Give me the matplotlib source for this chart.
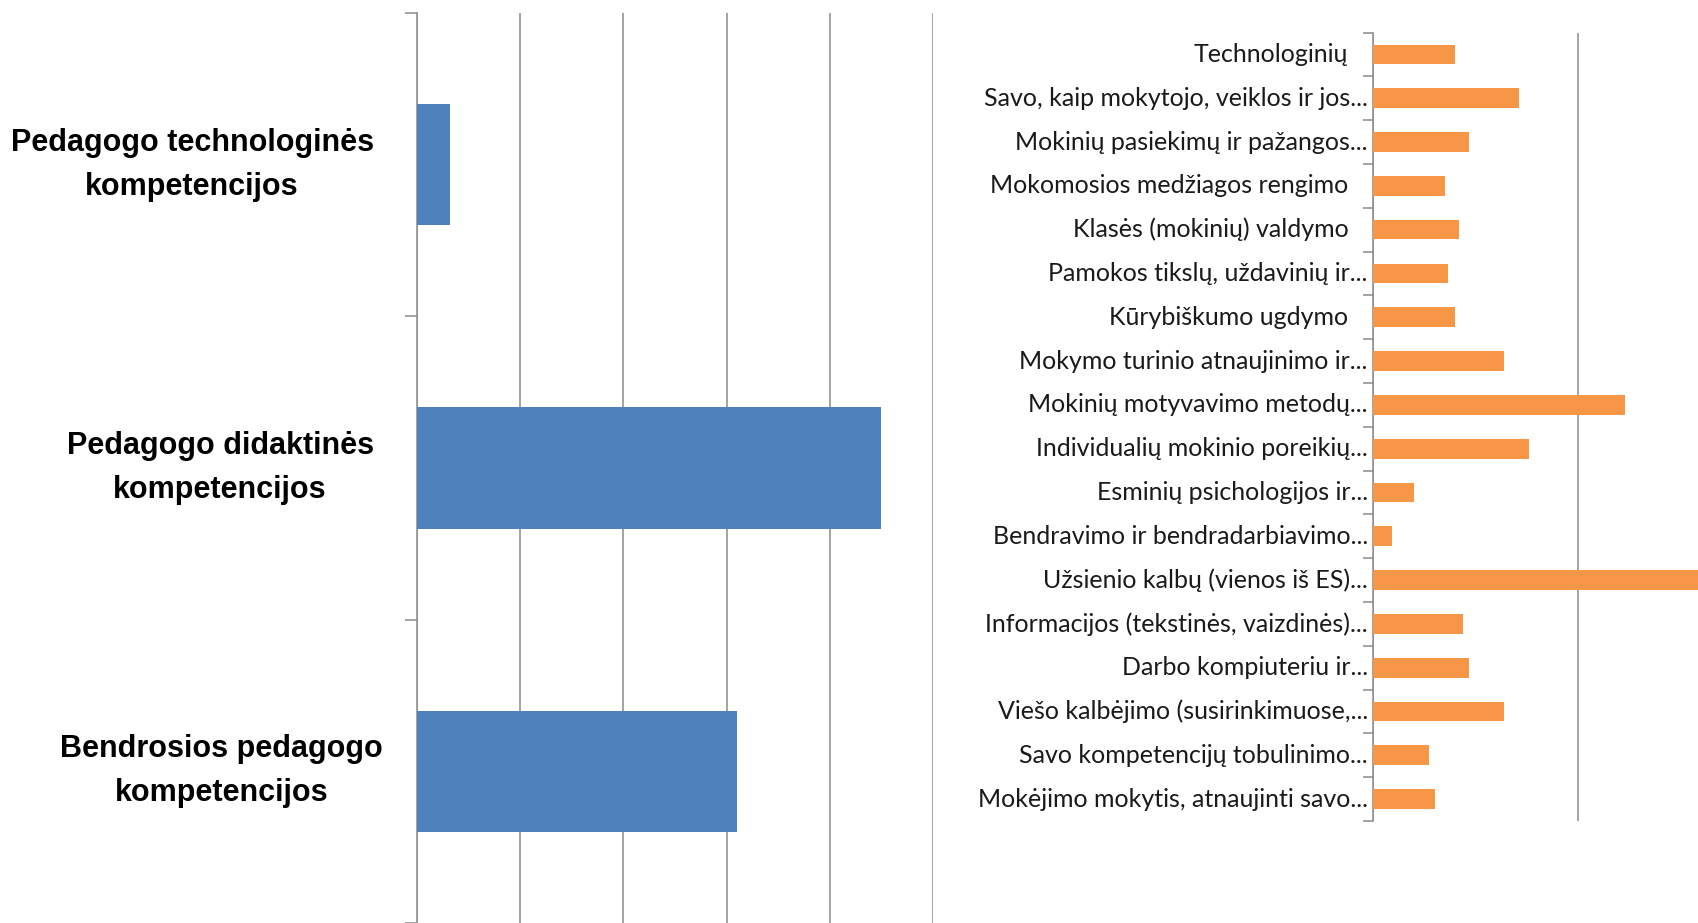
import numpy as np
import matplotlib.pyplot as plt

# left panel: competence groups (top to bottom)
groups = ["Pedagogo technologinės\nkompetencijos",
          "Pedagogo didaktinės\nkompetencijos",
          "Bendrosios pedagogo\nkompetencijos"]
group_vals = [0.32, 4.5, 3.1]

# right panel: individual competences (top to bottom)
items = ["Technologinių",
         "Savo, kaip mokytojo, veiklos ir jos...",
         "Mokinių pasiekimų ir pažangos...",
         "Mokomosios medžiagos rengimo",
         "Klasės (mokinių) valdymo",
         "Pamokos tikslų, uždavinių ir...",
         "Kūrybiškumo ugdymo",
         "Mokymo turinio atnaujinimo ir...",
         "Mokinių motyvavimo metodų...",
         "Individualių mokinio poreikių...",
         "Esminių psichologijos ir...",
         "Bendravimo ir bendradarbiavimo...",
         "Užsienio kalbų (vienos iš ES)...",
         "Informacijos (tekstinės, vaizdinės)...",
         "Darbo kompiuteriu ir...",
         "Viešo kalbėjimo (susirinkimuose,...",
         "Savo kompetencijų tobulinimo...",
         "Mokėjimo mokytis, atnaujinti savo..."]
item_vals = [0.40, 0.71, 0.47, 0.35, 0.42, 0.365, 0.40, 0.64, 1.23, 0.76,
             0.20, 0.095, 1.8, 0.44, 0.47, 0.64, 0.275, 0.30]

blue = "#4F81BD"
orange = "#F79646"
grid_c = "#8C8C8C"

fig = plt.figure(figsize=(16.99, 9.23), dpi=100)

# ---- left chart
ax1 = fig.add_axes([417/1699, 0.0, (933-417)/1699, 1 - 13/923])
y1 = np.arange(len(groups))
ax1.barh(y1, group_vals, height=0.4, color=blue, zorder=3)
ax1.set_ylim(2.5, -0.5)
ax1.set_xlim(0, 5)
ax1.set_xticks(np.arange(0, 6))
ax1.tick_params(axis="x", length=0, labelbottom=False)
ax1.grid(axis="x", color=grid_c, lw=1.1, zorder=0)
ax1.set_yticks(np.arange(-0.5, 3, 1))
ax1.set_yticklabels([])
ax1.tick_params(axis="y", direction="out", length=9, color=grid_c, width=1.1)
for s in ["top", "right", "bottom"]:
    ax1.spines[s].set_visible(False)
ax1.spines["left"].set_color(grid_c)
ax1.spines["left"].set_linewidth(1.1)
label_x = [-0.42, -0.42, -0.33]
for i, g in enumerate(groups):
    ax1.text(label_x[i], i, g, ha="right", va="center", multialignment="center",
             fontsize=22, fontweight="bold", family="Liberation Sans",
             linespacing=1.6)

# ---- right chart
ax2 = fig.add_axes([1373/1699, 1 - 821/923, (1699-1373)/1699, (821-32.5)/923])
y2 = np.arange(len(items))
ax2.barh(y2, item_vals, height=0.45, color=orange, zorder=3)
ax2.set_ylim(17.5, -0.5)
ax2.set_xlim(0, 1.59)
ax2.set_xticks([0, 1])
ax2.tick_params(axis="x", length=0, labelbottom=False)
ax2.grid(axis="x", color=grid_c, lw=1.1, zorder=0)
ax2.set_yticks(np.arange(-0.5, 18, 1))
ax2.set_yticklabels([])
ax2.tick_params(axis="y", direction="out", length=7, color=grid_c, width=1.1)
for s in ["top", "right", "bottom"]:
    ax2.spines[s].set_visible(False)
ax2.spines["left"].set_color(grid_c)
ax2.spines["left"].set_linewidth(1.1)
for i, t in enumerate(items):
    pad = -0.025 if t.endswith("...") else -0.12
    ax2.text(pad, i, t, ha="right", va="center", fontsize=18,
             family="Lato", color="#1a1a1a")

fig.savefig("out.png", dpi=100)
